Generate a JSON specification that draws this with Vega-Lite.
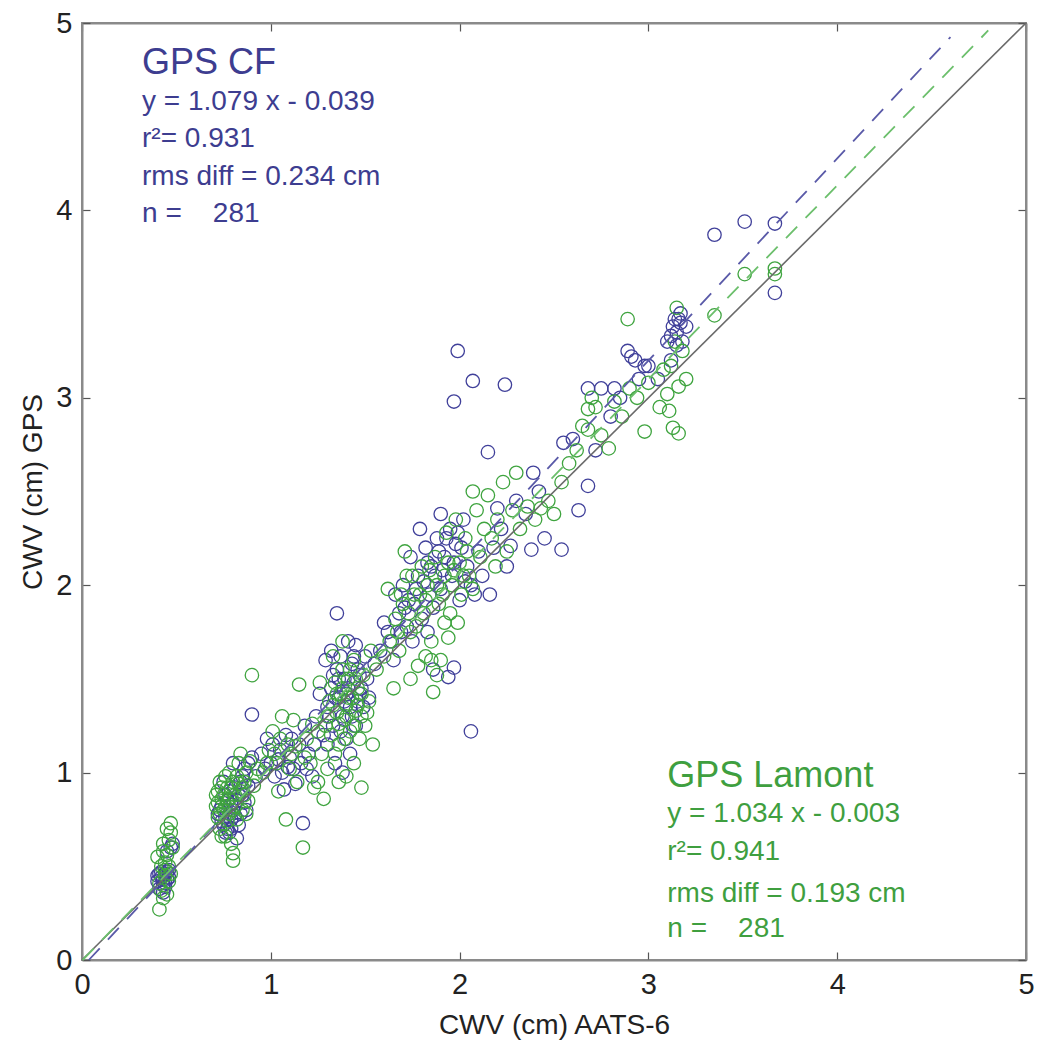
{
  "$schema": "https://vega.github.io/schema/vega-lite/v6.json",
  "autosize": {"type": "none"},
  "padding": {"left": 82, "top": 23, "right": 11, "bottom": 89},
  "width": 944,
  "height": 937,
  "background": "white",
  "config": {
    "view": {"stroke": "#8a8a8a", "strokeWidth": 2},
    "font": "Liberation Sans",
    "axis": {"domainColor": "#8a8a8a", "domainWidth": 2, "tickColor": "#555", "tickWidth": 1.2, "grid": false, "labelFont": "Liberation Sans", "titleFont": "Liberation Sans", "labelColor": "#222", "titleColor": "#222", "titleFontWeight": "normal"}
  },
  "datasets": {
    "pts": [
      {"x":0.40,"y":0.42,"s":"CF"},{"x":0.42,"y":0.44,"s":"CF"},{"x":0.43,"y":0.40,"s":"CF"},{"x":0.44,"y":0.46,"s":"CF"},{"x":0.41,"y":0.38,"s":"CF"},{"x":0.45,"y":0.43,"s":"CF"},{"x":0.46,"y":0.48,"s":"CF"},{"x":0.44,"y":0.41,"s":"CF"},{"x":0.42,"y":0.47,"s":"CF"},{"x":0.47,"y":0.60,"s":"CF"},{"x":0.45,"y":0.58,"s":"CF"},{"x":0.43,"y":0.36,"s":"CF"},{"x":0.40,"y":0.45,"s":"CF"},{"x":0.46,"y":0.44,"s":"CF"},{"x":0.48,"y":0.62,"s":"CF"},
      {"x":0.41,"y":0.46,"s":"CF"},{"x":0.43,"y":0.43,"s":"CF"},{"x":0.44,"y":0.39,"s":"CF"},{"x":0.45,"y":0.47,"s":"CF"},
      {"x":0.72,"y":0.78,"s":"CF"},{"x":0.74,"y":0.82,"s":"CF"},{"x":0.75,"y":0.72,"s":"CF"},{"x":0.76,"y":0.88,"s":"CF"},{"x":0.77,"y":0.70,"s":"CF"},{"x":0.78,"y":0.68,"s":"CF"},{"x":0.79,"y":0.75,"s":"CF"},{"x":0.80,"y":0.80,"s":"CF"},{"x":0.81,"y":0.92,"s":"CF"},{"x":0.82,"y":0.85,"s":"CF"},{"x":0.83,"y":0.72,"s":"CF"},{"x":0.84,"y":0.95,"s":"CF"},{"x":0.85,"y":0.88,"s":"CF"},{"x":0.86,"y":1.02,"s":"CF"},{"x":0.87,"y":0.80,"s":"CF"},{"x":0.88,"y":0.93,"s":"CF"},{"x":0.75,"y":0.95,"s":"CF"},{"x":0.78,"y":0.90,"s":"CF"},{"x":0.82,"y":0.65,"s":"CF"},{"x":0.84,"y":0.78,"s":"CF"},{"x":0.80,"y":1.05,"s":"CF"},{"x":0.90,"y":1.08,"s":"CF"},{"x":0.92,"y":0.98,"s":"CF"},{"x":0.74,"y":0.74,"s":"CF"},{"x":0.90,"y":1.31,"s":"CF"},
      {"x":0.73,"y":0.80,"s":"CF"},{"x":0.76,"y":0.76,"s":"CF"},{"x":0.77,"y":0.85,"s":"CF"},{"x":0.79,"y":0.83,"s":"CF"},{"x":0.81,"y":0.77,"s":"CF"},{"x":0.83,"y":0.88,"s":"CF"},{"x":0.85,"y":0.98,"s":"CF"},{"x":0.86,"y":0.84,"s":"CF"},{"x":0.88,"y":1.05,"s":"CF"},{"x":0.79,"y":0.70,"s":"CF"},{"x":0.76,"y":0.68,"s":"CF"},
      {"x":0.95,"y":1.10,"s":"CF"},{"x":0.98,"y":1.18,"s":"CF"},{"x":1.00,"y":1.05,"s":"CF"},{"x":1.02,"y":0.98,"s":"CF"},{"x":1.05,"y":1.12,"s":"CF"},{"x":1.07,"y":0.91,"s":"CF"},{"x":1.08,"y":1.20,"s":"CF"},{"x":1.10,"y":1.08,"s":"CF"},{"x":1.12,"y":1.02,"s":"CF"},{"x":1.15,"y":1.15,"s":"CF"},{"x":1.17,"y":0.73,"s":"CF"},{"x":1.18,"y":1.25,"s":"CF"},{"x":1.20,"y":1.10,"s":"CF"},{"x":1.22,"y":0.98,"s":"CF"},{"x":1.24,"y":1.30,"s":"CF"},{"x":1.06,"y":1.00,"s":"CF"},{"x":1.13,"y":0.94,"s":"CF"},
      {"x":0.97,"y":1.02,"s":"CF"},{"x":1.01,"y":1.15,"s":"CF"},{"x":1.04,"y":1.07,"s":"CF"},{"x":1.09,"y":1.03,"s":"CF"},{"x":1.11,"y":1.18,"s":"CF"},{"x":1.16,"y":1.05,"s":"CF"},{"x":1.19,"y":1.02,"s":"CF"},{"x":1.23,"y":1.15,"s":"CF"},
      {"x":1.28,"y":1.20,"s":"CF"},{"x":1.30,"y":1.35,"s":"CF"},{"x":1.32,"y":1.45,"s":"CF"},{"x":1.33,"y":1.25,"s":"CF"},{"x":1.35,"y":1.55,"s":"CF"},{"x":1.36,"y":1.40,"s":"CF"},{"x":1.37,"y":1.62,"s":"CF"},{"x":1.38,"y":1.30,"s":"CF"},{"x":1.39,"y":1.50,"s":"CF"},{"x":1.40,"y":1.42,"s":"CF"},{"x":1.41,"y":1.70,"s":"CF"},{"x":1.42,"y":1.35,"s":"CF"},{"x":1.43,"y":1.58,"s":"CF"},{"x":1.44,"y":1.48,"s":"CF"},{"x":1.45,"y":1.25,"s":"CF"},{"x":1.46,"y":1.38,"s":"CF"},{"x":1.47,"y":1.52,"s":"CF"},{"x":1.48,"y":1.45,"s":"CF"},{"x":1.50,"y":1.62,"s":"CF"},{"x":1.52,"y":1.40,"s":"CF"},{"x":1.30,"y":1.15,"s":"CF"},{"x":1.34,"y":1.05,"s":"CF"},{"x":1.38,"y":1.00,"s":"CF"},{"x":1.42,"y":1.10,"s":"CF"},{"x":1.26,"y":1.42,"s":"CF"},{"x":1.29,"y":1.60,"s":"CF"},{"x":1.35,"y":1.85,"s":"CF"},{"x":1.40,"y":1.18,"s":"CF"},{"x":1.45,"y":1.68,"s":"CF"},{"x":1.55,"y":1.58,"s":"CF"},{"x":1.33,"y":1.52,"s":"CF"},
      {"x":1.31,"y":1.30,"s":"CF"},{"x":1.34,"y":1.40,"s":"CF"},{"x":1.36,"y":1.50,"s":"CF"},{"x":1.37,"y":1.22,"s":"CF"},{"x":1.39,"y":1.38,"s":"CF"},{"x":1.41,"y":1.45,"s":"CF"},{"x":1.43,"y":1.30,"s":"CF"},{"x":1.44,"y":1.62,"s":"CF"},{"x":1.46,"y":1.55,"s":"CF"},{"x":1.49,"y":1.35,"s":"CF"},{"x":1.51,"y":1.50,"s":"CF"},{"x":1.32,"y":1.65,"s":"CF"},{"x":1.47,"y":1.42,"s":"CF"},
      {"x":1.58,"y":1.65,"s":"CF"},{"x":1.62,"y":1.75,"s":"CF"},{"x":1.65,"y":1.60,"s":"CF"},{"x":1.68,"y":1.85,"s":"CF"},{"x":1.70,"y":2.00,"s":"CF"},{"x":1.72,"y":1.78,"s":"CF"},{"x":1.74,"y":2.15,"s":"CF"},{"x":1.76,"y":1.90,"s":"CF"},{"x":1.78,"y":2.05,"s":"CF"},{"x":1.80,"y":1.82,"s":"CF"},{"x":1.82,"y":2.20,"s":"CF"},{"x":1.84,"y":1.95,"s":"CF"},{"x":1.85,"y":2.10,"s":"CF"},{"x":1.86,"y":1.55,"s":"CF"},{"x":1.88,"y":2.25,"s":"CF"},{"x":1.90,"y":1.98,"s":"CF"},{"x":1.92,"y":2.15,"s":"CF"},{"x":1.94,"y":1.51,"s":"CF"},{"x":1.95,"y":2.30,"s":"CF"},{"x":1.96,"y":2.05,"s":"CF"},{"x":1.98,"y":2.22,"s":"CF"},{"x":2.00,"y":1.92,"s":"CF"},{"x":2.02,"y":2.35,"s":"CF"},{"x":2.04,"y":2.10,"s":"CF"},{"x":2.06,"y":2.00,"s":"CF"},{"x":2.08,"y":1.95,"s":"CF"},{"x":2.10,"y":2.18,"s":"CF"},{"x":1.75,"y":1.70,"s":"CF"},{"x":1.83,"y":1.75,"s":"CF"},{"x":1.90,"y":2.38,"s":"CF"},{"x":1.60,"y":1.80,"s":"CF"},{"x":1.97,"y":1.56,"s":"CF"},{"x":2.12,"y":2.05,"s":"CF"},{"x":1.66,"y":1.95,"s":"CF"},{"x":1.79,"y":2.30,"s":"CF"},
      {"x":1.64,"y":1.70,"s":"CF"},{"x":1.69,"y":1.75,"s":"CF"},{"x":1.73,"y":1.92,"s":"CF"},{"x":1.77,"y":1.98,"s":"CF"},{"x":1.81,"y":2.02,"s":"CF"},{"x":1.83,"y":2.12,"s":"CF"},{"x":1.87,"y":2.05,"s":"CF"},{"x":1.89,"y":2.18,"s":"CF"},{"x":1.91,"y":2.08,"s":"CF"},{"x":1.93,"y":2.25,"s":"CF"},{"x":1.97,"y":2.12,"s":"CF"},{"x":1.99,"y":2.28,"s":"CF"},{"x":2.01,"y":2.20,"s":"CF"},{"x":2.03,"y":2.02,"s":"CF"},{"x":1.71,"y":1.88,"s":"CF"},{"x":1.86,"y":1.88,"s":"CF"},
      {"x":2.15,"y":2.71,"s":"CF"},{"x":2.18,"y":2.20,"s":"CF"},{"x":2.20,"y":2.41,"s":"CF"},{"x":2.22,"y":2.30,"s":"CF"},{"x":2.27,"y":2.21,"s":"CF"},{"x":2.30,"y":2.45,"s":"CF"},{"x":2.35,"y":2.38,"s":"CF"},{"x":2.39,"y":2.60,"s":"CF"},{"x":2.42,"y":2.50,"s":"CF"},{"x":2.45,"y":2.25,"s":"CF"},{"x":2.38,"y":2.19,"s":"CF"},{"x":2.54,"y":2.19,"s":"CF"},{"x":2.55,"y":2.76,"s":"CF"},{"x":2.16,"y":1.95,"s":"CF"},{"x":2.25,"y":2.10,"s":"CF"},
      {"x":2.63,"y":2.40,"s":"CF"},{"x":2.68,"y":2.53,"s":"CF"},{"x":2.68,"y":3.05,"s":"CF"},{"x":2.75,"y":3.05,"s":"CF"},{"x":2.82,"y":3.05,"s":"CF"},{"x":2.89,"y":3.25,"s":"CF"},{"x":2.91,"y":3.22,"s":"CF"},{"x":2.93,"y":3.20,"s":"CF"},{"x":2.98,"y":3.17,"s":"CF"},{"x":3.00,"y":3.17,"s":"CF"},{"x":2.72,"y":2.72,"s":"CF"},{"x":2.80,"y":2.90,"s":"CF"},{"x":2.60,"y":2.78,"s":"CF"},{"x":2.85,"y":3.00,"s":"CF"},{"x":2.95,"y":3.10,"s":"CF"},
      {"x":3.10,"y":3.30,"s":"CF"},{"x":3.12,"y":3.33,"s":"CF"},{"x":3.13,"y":3.38,"s":"CF"},{"x":3.14,"y":3.42,"s":"CF"},{"x":3.15,"y":3.35,"s":"CF"},{"x":3.16,"y":3.42,"s":"CF"},{"x":3.17,"y":3.40,"s":"CF"},{"x":3.18,"y":3.30,"s":"CF"},{"x":3.15,"y":3.28,"s":"CF"},{"x":3.12,"y":3.20,"s":"CF"},{"x":3.17,"y":3.45,"s":"CF"},{"x":3.20,"y":3.38,"s":"CF"},{"x":3.05,"y":3.10,"s":"CF"},
      {"x":3.35,"y":3.87,"s":"CF"},{"x":3.51,"y":3.94,"s":"CF"},{"x":3.67,"y":3.93,"s":"CF"},{"x":3.67,"y":3.56,"s":"CF"},{"x":1.99,"y":3.25,"s":"CF"},{"x":1.97,"y":2.98,"s":"CF"},{"x":2.07,"y":3.09,"s":"CF"},{"x":2.24,"y":3.07,"s":"CF"},{"x":2.06,"y":1.22,"s":"CF"},
      {"x":0.41,"y":0.27,"s":"Lamont"},{"x":0.43,"y":0.33,"s":"Lamont"},{"x":0.42,"y":0.37,"s":"Lamont"},{"x":0.44,"y":0.52,"s":"Lamont"},{"x":0.45,"y":0.56,"s":"Lamont"},{"x":0.46,"y":0.64,"s":"Lamont"},{"x":0.47,"y":0.68,"s":"Lamont"},{"x":0.47,"y":0.73,"s":"Lamont"},{"x":0.45,"y":0.70,"s":"Lamont"},{"x":0.43,"y":0.62,"s":"Lamont"},{"x":0.40,"y":0.55,"s":"Lamont"},{"x":0.48,"y":0.60,"s":"Lamont"},{"x":0.44,"y":0.48,"s":"Lamont"},{"x":0.46,"y":0.42,"s":"Lamont"},{"x":0.42,"y":0.50,"s":"Lamont"},{"x":0.45,"y":0.35,"s":"Lamont"},{"x":0.47,"y":0.46,"s":"Lamont"},
      {"x":0.44,"y":0.45,"s":"Lamont"},{"x":0.46,"y":0.50,"s":"Lamont"},{"x":0.43,"y":0.58,"s":"Lamont"},{"x":0.41,"y":0.41,"s":"Lamont"},
      {"x":0.71,"y":0.82,"s":"Lamont"},{"x":0.72,"y":0.90,"s":"Lamont"},{"x":0.73,"y":0.95,"s":"Lamont"},{"x":0.72,"y":0.76,"s":"Lamont"},{"x":0.74,"y":0.86,"s":"Lamont"},{"x":0.75,"y":0.80,"s":"Lamont"},{"x":0.76,"y":0.98,"s":"Lamont"},{"x":0.77,"y":0.84,"s":"Lamont"},{"x":0.78,"y":0.78,"s":"Lamont"},{"x":0.79,"y":0.92,"s":"Lamont"},{"x":0.80,"y":0.57,"s":"Lamont"},{"x":0.80,"y":0.53,"s":"Lamont"},{"x":0.81,"y":0.88,"s":"Lamont"},{"x":0.82,"y":0.98,"s":"Lamont"},{"x":0.83,"y":1.05,"s":"Lamont"},{"x":0.84,"y":0.90,"s":"Lamont"},{"x":0.85,"y":0.80,"s":"Lamont"},{"x":0.86,"y":0.95,"s":"Lamont"},{"x":0.87,"y":1.00,"s":"Lamont"},{"x":0.88,"y":0.85,"s":"Lamont"},{"x":0.89,"y":1.06,"s":"Lamont"},{"x":0.90,"y":1.52,"s":"Lamont"},{"x":0.73,"y":0.70,"s":"Lamont"},{"x":0.76,"y":0.66,"s":"Lamont"},{"x":0.79,"y":0.62,"s":"Lamont"},{"x":0.82,"y":0.75,"s":"Lamont"},{"x":0.84,"y":1.10,"s":"Lamont"},{"x":0.91,"y":0.93,"s":"Lamont"},{"x":0.93,"y":1.02,"s":"Lamont"},{"x":0.78,"y":1.00,"s":"Lamont"},
      {"x":0.71,"y":0.88,"s":"Lamont"},{"x":0.72,"y":0.84,"s":"Lamont"},{"x":0.73,"y":0.78,"s":"Lamont"},{"x":0.74,"y":0.92,"s":"Lamont"},{"x":0.75,"y":0.88,"s":"Lamont"},{"x":0.76,"y":0.82,"s":"Lamont"},{"x":0.77,"y":0.92,"s":"Lamont"},{"x":0.78,"y":0.86,"s":"Lamont"},{"x":0.79,"y":0.80,"s":"Lamont"},{"x":0.80,"y":0.95,"s":"Lamont"},{"x":0.81,"y":0.82,"s":"Lamont"},{"x":0.83,"y":0.94,"s":"Lamont"},{"x":0.85,"y":0.92,"s":"Lamont"},{"x":0.86,"y":0.88,"s":"Lamont"},{"x":0.87,"y":0.78,"s":"Lamont"},{"x":0.77,"y":0.74,"s":"Lamont"},{"x":0.74,"y":0.66,"s":"Lamont"},
      {"x":0.96,"y":1.00,"s":"Lamont"},{"x":0.99,"y":1.12,"s":"Lamont"},{"x":1.01,"y":1.22,"s":"Lamont"},{"x":1.03,"y":1.05,"s":"Lamont"},{"x":1.06,"y":1.30,"s":"Lamont"},{"x":1.08,"y":0.75,"s":"Lamont"},{"x":1.09,"y":1.15,"s":"Lamont"},{"x":1.11,"y":1.10,"s":"Lamont"},{"x":1.14,"y":0.95,"s":"Lamont"},{"x":1.15,"y":1.47,"s":"Lamont"},{"x":1.17,"y":0.60,"s":"Lamont"},{"x":1.19,"y":1.18,"s":"Lamont"},{"x":1.21,"y":1.05,"s":"Lamont"},{"x":1.23,"y":0.92,"s":"Lamont"},{"x":1.25,"y":1.22,"s":"Lamont"},{"x":1.28,"y":0.86,"s":"Lamont"},{"x":1.04,"y":0.90,"s":"Lamont"},{"x":1.12,"y":1.28,"s":"Lamont"},
      {"x":0.98,"y":1.05,"s":"Lamont"},{"x":1.02,"y":1.10,"s":"Lamont"},{"x":1.05,"y":1.18,"s":"Lamont"},{"x":1.10,"y":1.02,"s":"Lamont"},{"x":1.13,"y":1.14,"s":"Lamont"},{"x":1.18,"y":1.08,"s":"Lamont"},{"x":1.22,"y":1.26,"s":"Lamont"},
      {"x":1.27,"y":1.10,"s":"Lamont"},{"x":1.29,"y":1.25,"s":"Lamont"},{"x":1.31,"y":1.38,"s":"Lamont"},{"x":1.32,"y":1.20,"s":"Lamont"},{"x":1.34,"y":1.48,"s":"Lamont"},{"x":1.35,"y":1.32,"s":"Lamont"},{"x":1.36,"y":1.15,"s":"Lamont"},{"x":1.37,"y":1.42,"s":"Lamont"},{"x":1.38,"y":1.55,"s":"Lamont"},{"x":1.39,"y":1.28,"s":"Lamont"},{"x":1.40,"y":1.36,"s":"Lamont"},{"x":1.41,"y":1.50,"s":"Lamont"},{"x":1.42,"y":1.22,"s":"Lamont"},{"x":1.43,"y":1.40,"s":"Lamont"},{"x":1.44,"y":1.60,"s":"Lamont"},{"x":1.45,"y":1.33,"s":"Lamont"},{"x":1.46,"y":1.45,"s":"Lamont"},{"x":1.47,"y":1.18,"s":"Lamont"},{"x":1.48,"y":1.30,"s":"Lamont"},{"x":1.49,"y":1.52,"s":"Lamont"},{"x":1.50,"y":1.25,"s":"Lamont"},{"x":1.52,"y":1.38,"s":"Lamont"},{"x":1.54,"y":1.15,"s":"Lamont"},{"x":1.36,"y":0.95,"s":"Lamont"},{"x":1.40,"y":0.98,"s":"Lamont"},{"x":1.44,"y":1.05,"s":"Lamont"},{"x":1.30,"y":1.02,"s":"Lamont"},{"x":1.26,"y":1.48,"s":"Lamont"},{"x":1.33,"y":1.62,"s":"Lamont"},{"x":1.38,"y":1.70,"s":"Lamont"},{"x":1.53,"y":1.65,"s":"Lamont"},{"x":1.25,"y":0.95,"s":"Lamont"},{"x":1.48,"y":0.92,"s":"Lamont"},
      {"x":1.30,"y":1.30,"s":"Lamont"},{"x":1.33,"y":1.36,"s":"Lamont"},{"x":1.35,"y":1.42,"s":"Lamont"},{"x":1.36,"y":1.26,"s":"Lamont"},{"x":1.38,"y":1.45,"s":"Lamont"},{"x":1.40,"y":1.30,"s":"Lamont"},{"x":1.41,"y":1.40,"s":"Lamont"},{"x":1.42,"y":1.55,"s":"Lamont"},{"x":1.44,"y":1.25,"s":"Lamont"},{"x":1.45,"y":1.50,"s":"Lamont"},{"x":1.46,"y":1.36,"s":"Lamont"},{"x":1.48,"y":1.42,"s":"Lamont"},{"x":1.51,"y":1.32,"s":"Lamont"},{"x":1.34,"y":1.10,"s":"Lamont"},{"x":1.39,"y":1.18,"s":"Lamont"},
      {"x":1.56,"y":1.55,"s":"Lamont"},{"x":1.60,"y":1.62,"s":"Lamont"},{"x":1.63,"y":1.70,"s":"Lamont"},{"x":1.66,"y":1.82,"s":"Lamont"},{"x":1.68,"y":1.65,"s":"Lamont"},{"x":1.70,"y":1.90,"s":"Lamont"},{"x":1.72,"y":2.05,"s":"Lamont"},{"x":1.74,"y":1.75,"s":"Lamont"},{"x":1.76,"y":1.95,"s":"Lamont"},{"x":1.78,"y":1.57,"s":"Lamont"},{"x":1.80,"y":2.10,"s":"Lamont"},{"x":1.81,"y":1.85,"s":"Lamont"},{"x":1.83,"y":2.00,"s":"Lamont"},{"x":1.85,"y":1.70,"s":"Lamont"},{"x":1.86,"y":1.43,"s":"Lamont"},{"x":1.87,"y":2.15,"s":"Lamont"},{"x":1.89,"y":1.90,"s":"Lamont"},{"x":1.90,"y":1.60,"s":"Lamont"},{"x":1.92,"y":2.05,"s":"Lamont"},{"x":1.93,"y":2.28,"s":"Lamont"},{"x":1.95,"y":1.85,"s":"Lamont"},{"x":1.96,"y":2.00,"s":"Lamont"},{"x":1.98,"y":2.35,"s":"Lamont"},{"x":2.00,"y":2.12,"s":"Lamont"},{"x":2.01,"y":1.95,"s":"Lamont"},{"x":2.03,"y":2.25,"s":"Lamont"},{"x":2.05,"y":2.05,"s":"Lamont"},{"x":2.07,"y":1.98,"s":"Lamont"},{"x":2.09,"y":2.40,"s":"Lamont"},{"x":2.11,"y":2.15,"s":"Lamont"},{"x":2.13,"y":2.30,"s":"Lamont"},{"x":1.74,"y":1.50,"s":"Lamont"},{"x":1.65,"y":1.45,"s":"Lamont"},{"x":1.82,"y":1.62,"s":"Lamont"},{"x":1.94,"y":1.72,"s":"Lamont"},{"x":1.62,"y":1.98,"s":"Lamont"},{"x":1.71,"y":2.18,"s":"Lamont"},{"x":2.15,"y":2.48,"s":"Lamont"},{"x":1.88,"y":1.52,"s":"Lamont"},{"x":1.99,"y":1.80,"s":"Lamont"},
      {"x":1.67,"y":1.75,"s":"Lamont"},{"x":1.69,"y":1.95,"s":"Lamont"},{"x":1.73,"y":1.85,"s":"Lamont"},{"x":1.75,"y":2.05,"s":"Lamont"},{"x":1.77,"y":1.78,"s":"Lamont"},{"x":1.79,"y":1.95,"s":"Lamont"},{"x":1.82,"y":1.92,"s":"Lamont"},{"x":1.84,"y":2.08,"s":"Lamont"},{"x":1.88,"y":2.00,"s":"Lamont"},{"x":1.91,"y":1.95,"s":"Lamont"},{"x":1.94,"y":2.12,"s":"Lamont"},{"x":1.97,"y":2.08,"s":"Lamont"},{"x":2.02,"y":2.05,"s":"Lamont"},{"x":2.04,"y":2.18,"s":"Lamont"},{"x":1.85,"y":1.60,"s":"Lamont"},{"x":1.92,"y":1.80,"s":"Lamont"},
      {"x":2.17,"y":2.25,"s":"Lamont"},{"x":2.20,"y":2.35,"s":"Lamont"},{"x":2.23,"y":2.55,"s":"Lamont"},{"x":2.25,"y":2.18,"s":"Lamont"},{"x":2.28,"y":2.40,"s":"Lamont"},{"x":2.32,"y":2.30,"s":"Lamont"},{"x":2.36,"y":2.42,"s":"Lamont"},{"x":2.40,"y":2.35,"s":"Lamont"},{"x":2.43,"y":2.41,"s":"Lamont"},{"x":2.47,"y":2.45,"s":"Lamont"},{"x":2.50,"y":2.38,"s":"Lamont"},{"x":2.54,"y":2.55,"s":"Lamont"},{"x":2.07,"y":2.50,"s":"Lamont"},{"x":2.19,"y":2.10,"s":"Lamont"},{"x":2.30,"y":2.60,"s":"Lamont"},
      {"x":2.58,"y":2.65,"s":"Lamont"},{"x":2.62,"y":2.72,"s":"Lamont"},{"x":2.65,"y":2.85,"s":"Lamont"},{"x":2.68,"y":2.94,"s":"Lamont"},{"x":2.68,"y":2.83,"s":"Lamont"},{"x":2.72,"y":2.95,"s":"Lamont"},{"x":2.75,"y":2.80,"s":"Lamont"},{"x":2.79,"y":2.73,"s":"Lamont"},{"x":2.82,"y":2.98,"s":"Lamont"},{"x":2.86,"y":2.90,"s":"Lamont"},{"x":2.89,"y":3.42,"s":"Lamont"},{"x":2.90,"y":3.05,"s":"Lamont"},{"x":2.94,"y":3.00,"s":"Lamont"},{"x":2.98,"y":2.82,"s":"Lamont"},{"x":3.00,"y":3.08,"s":"Lamont"},{"x":2.70,"y":3.00,"s":"Lamont"},
      {"x":3.08,"y":3.15,"s":"Lamont"},{"x":3.12,"y":3.17,"s":"Lamont"},{"x":3.16,"y":3.06,"s":"Lamont"},{"x":3.11,"y":2.93,"s":"Lamont"},{"x":3.13,"y":2.84,"s":"Lamont"},{"x":3.16,"y":2.81,"s":"Lamont"},{"x":3.18,"y":3.25,"s":"Lamont"},{"x":3.15,"y":3.48,"s":"Lamont"},{"x":3.14,"y":3.30,"s":"Lamont"},{"x":3.20,"y":3.10,"s":"Lamont"},{"x":3.10,"y":3.02,"s":"Lamont"},{"x":3.06,"y":2.95,"s":"Lamont"},
      {"x":3.35,"y":3.44,"s":"Lamont"},{"x":3.51,"y":3.66,"s":"Lamont"},{"x":3.67,"y":3.69,"s":"Lamont"},{"x":3.67,"y":3.66,"s":"Lamont"}
    ],
    "fits": [
      {"x":0.036,"y":0.0,"s":"CF"},{"x":4.6,"y":4.925,"s":"CF"},
      {"x":0.003,"y":0.0,"s":"Lamont"},{"x":4.8,"y":4.96,"s":"Lamont"}
    ],
    "heads": [
      {"x":0.318,"y":4.728,"label":"GPS CF","s":"CF"},
      {"x":3.10,"y":0.923,"label":"GPS Lamont","s":"Lamont"}
    ],
    "stats": [
      {"x":0.318,"y":4.536,"label":"y = 1.079 x - 0.039","s":"CF"},
      {"x":0.318,"y":4.338,"label":"r²= 0.931","s":"CF"},
      {"x":0.318,"y":4.136,"label":"rms diff = 0.234 cm","s":"CF"},
      {"x":0.318,"y":3.938,"label":"n =\u00a0\u00a0\u00a0 281","s":"CF"},
      {"x":3.10,"y":0.736,"label":"y = 1.034 x - 0.003","s":"Lamont"},
      {"x":3.10,"y":0.534,"label":"r²= 0.941","s":"Lamont"},
      {"x":3.10,"y":0.309,"label":"rms diff = 0.193 cm","s":"Lamont"},
      {"x":3.10,"y":0.123,"label":"n =\u00a0\u00a0\u00a0 281","s":"Lamont"}
    ]
  },
  "layer": [
    {
      "data": {"name": "pts"},
      "mark": {"type": "point", "shape": "circle", "filled": false, "size": 180, "strokeWidth": 1.3, "opacity": 1},
      "encoding": {
        "x": {"field": "x", "type": "quantitative", "scale": {"domain": [0, 5], "nice": false, "zero": false},
          "axis": {"orient": "bottom", "values": [0,1,2,3,4,5], "tickSize": -8, "labelPadding": 18, "labelFontSize": 29, "title": "CWV (cm) AATS-6", "titleFontSize": 28, "titlePadding": 12, "labelFlush": false}},
        "y": {"field": "y", "type": "quantitative", "scale": {"domain": [0, 5], "nice": false, "zero": false},
          "axis": {"orient": "left", "values": [0,1,2,3,4,5], "tickSize": -8, "labelPadding": 18, "labelFontSize": 29, "title": "CWV (cm) GPS", "titleFontSize": 28, "titlePadding": 8, "labelFlush": false}},
        "color": {"field": "s", "type": "nominal", "scale": {"domain": ["CF", "Lamont"], "range": ["#40409a", "#3fa43f"]}, "legend": null},
        "order": {"field": "s", "type": "nominal"}
      }
    },
    {
      "data": {"values": [{"x": 0, "y": 0}, {"x": 5, "y": 5}]},
      "mark": {"type": "line", "color": "#6a6a6a", "strokeWidth": 1.6},
      "encoding": {
        "x": {"field": "x", "type": "quantitative", "axis": {"orient": "top", "values": [0,1,2,3,4,5], "tickSize": -8, "labels": false, "title": null}},
        "y": {"field": "y", "type": "quantitative", "axis": {"orient": "right", "values": [0,1,2,3,4,5], "tickSize": -8, "labels": false, "title": null}}
      }
    },
    {
      "data": {"name": "fits"},
      "mark": {"type": "line", "strokeWidth": 1.8, "strokeDash": [16, 12]},
      "encoding": {
        "x": {"field": "x", "type": "quantitative", "axis": null},
        "y": {"field": "y", "type": "quantitative", "axis": null},
        "color": {"field": "s", "type": "nominal", "scale": {"domain": ["CF", "Lamont"], "range": ["#5a5aa8", "#6cbf6c"]}, "legend": null},
        "detail": {"field": "s"}
      }
    },
    {
      "data": {"name": "heads"},
      "mark": {"type": "text", "align": "left", "baseline": "alphabetic", "fontSize": 36, "font": "Liberation Sans"},
      "encoding": {
        "x": {"field": "x", "type": "quantitative", "axis": null},
        "y": {"field": "y", "type": "quantitative", "axis": null},
        "text": {"field": "label"},
        "color": {"field": "s", "type": "nominal", "scale": {"domain": ["CF", "Lamont"], "range": ["#3d3d90", "#3f9f3f"]}, "legend": null}
      }
    },
    {
      "data": {"name": "stats"},
      "mark": {"type": "text", "align": "left", "baseline": "alphabetic", "fontSize": 28, "font": "Liberation Sans"},
      "encoding": {
        "x": {"field": "x", "type": "quantitative", "axis": null},
        "y": {"field": "y", "type": "quantitative", "axis": null},
        "text": {"field": "label"},
        "color": {"field": "s", "type": "nominal", "scale": {"domain": ["CF", "Lamont"], "range": ["#3d3d90", "#3f9f3f"]}, "legend": null}
      }
    }
  ],
  "resolve": {"axis": {"x": "independent", "y": "independent"}, "scale": {"color": "independent"}}
}
